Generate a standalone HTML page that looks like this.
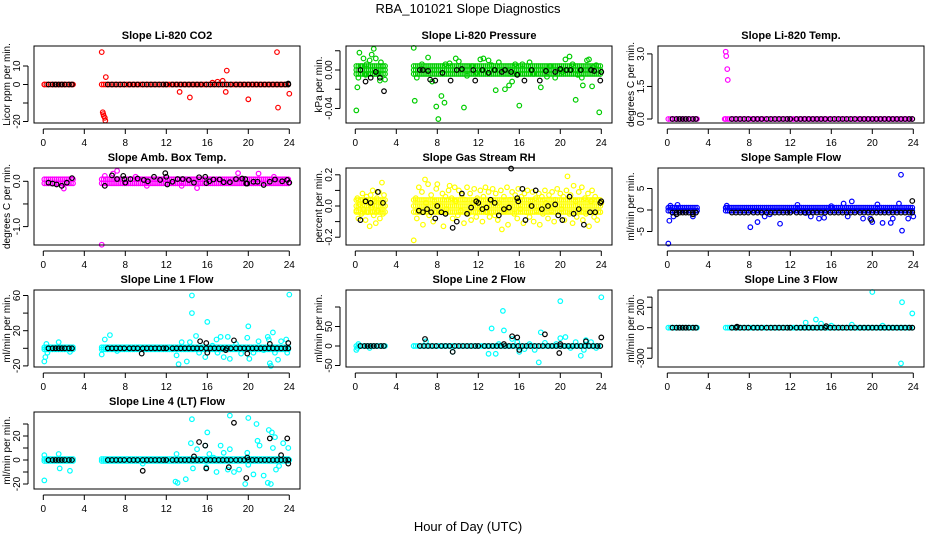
<!DOCTYPE html>
<html><head><meta charset="utf-8"><style>
html,body{margin:0;padding:0;background:#fff;}
svg{display:block;font-family:"Liberation Sans",sans-serif;}
</style></head><body>
<svg id="chart" width="936" height="540" viewBox="0 0 936 540" xmlns="http://www.w3.org/2000/svg">
<text x="468" y="13" text-anchor="middle" font-size="13">RBA_101021  Slope Diagnostics</text>
<text x="468" y="531" text-anchor="middle" font-size="13">Hour of Day (UTC)</text>
</svg>
<script>
// ---- shared data ----
const xTicks = [0,4,8,12,16,20,24];
const blackHours = [0.5,0.9,1.2,1.5,1.8,2.1,2.5,2.8,6.3,6.7,7.1,7.5,7.9,8.4,8.8,9.2,9.7,10.1,10.5,10.9,11.3,11.7,12.0,12.6,13.0,13.4,13.8,14.2,14.6,15.0,15.4,15.9,16.3,16.7,17.1,17.5,17.9,18.3,18.8,19.2,19.6,20.0,20.4,20.8,21.2,21.6,22.0,22.4,22.8,23.2,23.6,23.9];
const bandHours = [0.1,0.3,0.5,0.7,0.9,1.1,1.3,1.5,1.7,1.9,2.1,2.3,2.5,2.7,2.9,5.7,5.9,6.1,6.3,6.5,6.7,6.9,7.1,7.3,7.5,7.7,7.9,8.1,8.3,8.5,8.7,8.9,9.1,9.3,9.5,9.7,9.9,10.1,10.3,10.5,10.7,10.9,11.1,11.3,11.5,11.7,11.9,12.1,12.3,12.5,12.7,12.9,13.1,13.3,13.5,13.7,13.9,14.1,14.3,14.5,14.7,14.9,15.1,15.3,15.5,15.7,15.9,16.1,16.3,16.5,16.7,16.9,17.1,17.3,17.5,17.7,17.9,18.1,18.3,18.5,18.7,18.9,19.1,19.3,19.5,19.7,19.9,20.1,20.3,20.5,20.7,20.9,21.1,21.3,21.5,21.7,21.9,22.1,22.3,22.5,22.7,22.9,23.1,23.3,23.5,23.7,23.9];

// ---- panel data ----
const co2Band = 0;
const co2Color = [[5.7,17.5],[6.1,4],[5.8,-15],[5.9,-17],[6.0,-18],[6.05,-19.5],[5.85,-16],[13.3,-4],[14.3,-7],[16.5,1],[17,1.5],[17.8,-4],[17.9,7.5],[17.5,2],[20,-8],[22.8,17.5],[22.9,-12.5],[24,-5],[0.1,0]];
const co2Black = [[23.9,0.5]];
const co2BlackBase = 0;

const presBand = 0;
const presColor = [[0.1,-0.042],[0.3,-0.008],[0.4,0.018],[0.8,0.012],[1.1,0.006],[1.4,0.01],[1.6,0.016],[1.8,0.022],[2.2,-0.003],[2.4,-0.011],[2.7,0.004],[2.9,-0.01],[0.2,-0.018],[1.0,-0.005],[2.0,0.012],[0.6,0.004],[1.3,-0.004],[2.5,0.008],[5.7,0.023],[5.8,-0.032],[6.0,-0.008],[6.5,0.006],[7.1,0.013],[7.5,-0.012],[7.9,-0.038],[8.1,-0.051],[8.4,-0.027],[8.7,-0.034],[9.2,0.007],[10.1,0.009],[10.6,-0.039],[11.4,0.004],[12.2,0.011],[13.0,0.01],[13.7,-0.021],[14.6,-0.02],[15.0,-0.016],[15.3,-0.012],[16.0,-0.037],[16.3,0.006],[17.4,-0.004],[18.1,-0.018],[19.0,0.004],[20.5,0.011],[20.9,0.014],[21.5,-0.031],[21.7,-0.005],[22.2,-0.016],[22.6,0.01],[22.8,0.011],[23.1,-0.017],[23.8,-0.044],[23.5,0.005],[19.5,-0.008],[12.5,0.012],[9.8,0.012],[11.8,-0.003],[14.0,0.008],[17.0,0.008],[20.2,-0.002],[23.2,0.003],[8.8,0.006],[10.9,-0.006],[13.3,0.005],[15.6,0.006],[18.7,-0.007],[21.2,0.006],[22.1,-0.008]];
const presBlack = [[0.5,0.0],[1.0,-0.012],[1.5,-0.008],[2.0,-0.002],[2.4,-0.008],[2.8,-0.022],[6.3,0],[6.6,0],[7.1,-0.001],[7.3,-0.01],[7.8,-0.011],[8.5,-0.003],[9.3,-0.011],[9.9,0],[10.4,0.001],[11.5,0],[11.7,-0.011],[12.4,0],[13.0,-0.003],[13.6,0],[14.3,-0.002],[14.6,0],[15.2,-0.002],[15.8,-0.005],[16.5,-0.011],[17.2,0],[18.0,-0.011],[18.6,-0.001],[19.5,-0.002],[20.0,0.001],[20.6,0],[21.0,0],[22.0,0],[23.0,0],[23.3,-0.001],[23.9,-0.011],[24,-0.002]];
const presBlackBase = null;

const tempBand = 0;
const tempColor = [[5.7,3.1],[5.75,2.9],[5.85,2.3],[5.9,1.8],[5.6,0]];
const tempBlack = [];
const tempBlackBase = 0;

const ambBand = 0;
const ambColor = [[5.7,-1.4],[7.2,0.23],[6.8,0.17],[19.0,0.18],[21.0,0.17],[22.5,0.1],[2.0,-0.16],[10.1,-0.1],[15.0,-0.15],[6.0,0.12],[9.0,0.1],[13.5,-0.1]];
const ambBlack = [[0.5,-0.03],[0.9,-0.05],[1.3,-0.07],[1.8,-0.1],[2.3,-0.03],[2.8,0.07],[6.0,-0.1],[6.7,0.13],[7.2,0.05],[7.8,0.12],[7.9,0.05],[8.0,-0.03],[8.5,0.05],[9.2,0.06],[9.8,0.03],[10.2,0],[10.8,0.1],[11.4,0.03],[11.9,0.18],[12.0,0.1],[12.1,-0.07],[12.6,-0.01],[13.1,0.05],[13.6,0.05],[14.2,0.03],[14.7,-0.03],[15.2,0.09],[15.8,0.1],[15.9,-0.04],[16.2,0],[16.6,0.04],[17.2,0.04],[17.6,-0.02],[18.2,-0.02],[18.8,0.05],[19.4,0.06],[19.7,0.05],[19.8,-0.05],[19.9,-0.05],[20.5,-0.01],[20.9,-0.01],[21.5,-0.08],[22.1,-0.01],[22.6,0.04],[23.3,0],[23.8,0.03],[24,-0.03]];
const ambBlackBase = null;

const rhBand = 0;
const rhColor = [[0.1,-0.03],[0.2,0.05],[0.3,-0.08],[0.4,0.01],[0.5,0.04],[0.6,-0.05],[0.7,0.08],[0.8,-0.02],[0.9,0.03],[1.0,-0.09],[1.1,0.06],[1.2,-0.04],[1.3,0.02],[1.4,-0.13],[1.5,0.07],[1.6,-0.01],[1.7,0.1],[1.8,-0.06],[1.9,0.03],[2.0,-0.11],[2.1,0.05],[2.2,-0.03],[2.3,0.09],[2.4,-0.08],[2.5,0.02],[2.6,0.15],[2.7,-0.05],[2.8,0.07],[2.9,0.0],
[5.7,-0.22],[5.9,0.05],[6.0,-0.08],[6.2,0.12],[6.3,-0.03],[6.5,0.09],[6.6,-0.12],[6.8,0.17],[6.9,0.02],[7.1,0.14],[7.2,-0.06],[7.4,0.07],[7.6,-0.1],[7.7,0.03],[7.9,0.11],[8.0,0.14],[8.2,-0.04],[8.3,0.0],[8.5,0.08],[8.6,-0.13],[8.8,0.06],[8.9,-0.02],[9.1,0.1],[9.2,0.13],[9.4,0.05],[9.5,-0.08],[9.7,0.12],[9.8,0.03],[10.0,-0.06],[10.1,0.1],[10.3,-0.03],[10.4,0.07],[10.6,-0.11],[10.7,0.04],[10.9,0.12],[11.0,-0.05],[11.2,0.08],[11.3,-0.09],[11.5,0.02],[11.6,0.11],[11.8,-0.07],[11.9,0.05],[12.1,-0.02],[12.2,0.1],[12.4,-0.1],[12.5,0.06],[12.7,0.12],[12.8,-0.04],[13.0,0.09],[13.1,-0.07],[13.3,0.03],[13.4,0.11],[13.6,-0.06],[13.7,0.08],[13.9,-0.09],[14.0,0.02],[14.2,0.1],[14.3,-0.15],[14.5,0.06],[14.6,-0.03],[14.8,0.12],[14.9,-0.12],[15.1,0.04],[15.3,0.09],[15.5,-0.05],[15.6,0.07],[15.8,-0.08],[15.9,0.11],[16.1,-0.02],[16.2,0.06],[16.4,-0.11],[16.5,0.08],[16.7,-0.04],[16.8,0.1],[17.0,-0.07],[17.1,0.03],[17.3,0.09],[17.4,-0.1],[17.6,0.05],[17.7,-0.03],[17.9,0.08],[18.0,-0.12],[18.2,0.06],[18.3,-0.05],[18.5,0.1],[18.6,0.02],[18.8,-0.08],[18.9,0.07],[19.1,-0.03],[19.2,0.09],[19.4,-0.1],[19.5,0.04],[19.7,0.11],[19.8,-0.06],[20.0,0.08],[20.1,-0.02],[20.3,0.06],[20.4,-0.09],[20.6,0.1],[20.7,0.19],[20.9,-0.05],[21.0,0.07],[21.2,-0.11],[21.3,0.13],[21.5,0.03],[21.6,-0.07],[21.8,0.09],[21.9,-0.03],[22.1,0.12],[22.2,-0.09],[22.4,0.05],[22.5,-0.05],[22.7,0.08],[22.8,-0.13],[23.0,0.03],[23.1,0.1],[23.3,-0.07],[23.4,0.06],[23.6,-0.09],[23.7,0.04],[23.9,-0.04],[24.0,0.02]];
const rhBlack = [[0.5,-0.09],[1.0,0.03],[1.5,0.02],[2.2,0.09],[2.7,0.02],[6.2,-0.03],[6.6,-0.04],[7.0,-0.02],[7.4,-0.04],[7.8,-0.08],[8.0,0.0],[8.4,-0.04],[8.8,-0.05],[9.5,-0.14],[9.9,-0.1],[10.4,0.08],[10.9,-0.05],[11.3,-0.01],[11.8,0.03],[12.0,0.02],[12.4,-0.02],[12.8,-0.01],[13.2,0.04],[13.6,0.02],[14.0,-0.06],[14.5,-0.02],[15.0,-0.01],[15.2,0.24],[15.8,0.05],[15.9,0.03],[16.3,0.11],[16.6,-0.09],[17.2,0.0],[17.6,0.1],[18.2,-0.02],[18.8,0.0],[19.5,0.01],[19.8,-0.06],[20.2,-0.09],[20.9,0.06],[21.3,-0.05],[21.8,-0.02],[22.3,-0.12],[22.9,-0.04],[23.4,-0.04],[23.9,0.02],[24,0.03]];
const rhBlackBase = null;

const flowBand = 0.3;
const flowColor = [[0.1,-7.8],[0.2,-2.5],[0.3,1],[0.6,-1.5],[1.0,1.2],[2.5,-1.5],[5.8,1],[8.1,-4],[8.8,-2.8],[9.5,-1.5],[11,-3.2],[12.7,1.2],[14,-1.5],[14.8,-2],[15.3,-1.8],[16,0.9],[17.2,1.5],[17.6,-1.5],[18,2],[19.1,-2],[19.8,-2],[20,-2.8],[21,-3],[21.8,-3],[22,-2],[22.6,1.5],[22.8,8.2],[22.9,-4.8],[23.5,-2],[24,-1.5],[20.5,1.3],[21.5,0.5],[13.5,-0.7],[10,-1]];
const flowBlack = [[23.9,2.1],[19.9,-2.3],[0.9,-1.0],[2.5,-1.0]];
const flowBlackBase = -0.6;

const l1Band = 0;
const l1Color = [[0.1,-15],[0.2,-10],[0.3,5],[0.4,-5],[1.5,7],[2.6,-4],[5.7,-7],[6.0,10],[6.5,15],[7.2,-3],[13.0,-8],[13.2,-18],[13.5,7],[14,-15],[14.3,7],[14.5,60],[14.5,40],[14.9,14],[15.2,-5],[15.8,-10],[16,30],[16.5,3],[17,-5],[17.3,13],[17.6,-10],[18,13],[18.2,-12],[18.8,5],[19.3,-6],[19.9,12],[20,25],[20.1,-12],[20.5,-5],[21,8],[21.5,-2],[22,10],[22.1,-17],[22.2,-20],[22.4,18],[22.6,-5],[22.9,-13],[23.2,8],[23.7,10],[23.8,-5],[24,61],[21.9,13],[16.9,10]];
const l1Black = [[15.3,8],[15.9,6],[16.0,-5],[18.6,9],[19.9,-6],[22.1,5],[23.9,6],[9.6,-6],[17.8,-2]];
const l1BlackBase = 0;

const l2Band = 0;
const l2Color = [[0.1,-10],[0.2,-5],[0.3,5],[1.4,-5],[5.7,0],[6.9,12],[9.5,-15],[13.0,-20],[13.3,45],[13.7,-20],[14.4,90],[14.5,40],[15.3,18],[15.8,10],[16.5,-8],[17,5],[17.5,-10],[17.9,-42],[18.1,35],[18.5,8],[19.6,5],[20,115],[20,20],[20.5,23],[21,-5],[22,-25],[22.3,-10],[22.5,15],[23,10],[23.5,-5],[24,125],[21.5,10],[16,-15],[14,5]];
const l2Black = [[6.8,18],[9.5,-15],[14.5,5],[15.3,25],[15.8,22],[16,-10],[18.5,30],[19.9,-18],[20,5],[22.5,12],[24,22]];
const l2BlackBase = 0;

const l3Band = 0;
const l3Color = [[20,350],[22.8,-350],[22.9,250],[23.9,140],[14.5,80],[13.5,50],[16,20],[18,30],[21,20],[15,40]];
const l3Black = [[15.5,15],[6.8,10]];
const l3BlackBase = 0;

const l4Band = 0;
const l4Color = [[0.1,4],[0.1,-17],[1.5,5],[1.6,-7],[2.6,-9],[9.7,-3],[12.9,-18],[13.1,-19],[13.9,-16],[13.0,5],[14.5,34],[14.4,14],[14.6,-7],[15.0,9],[15.8,12],[15.9,-6],[16.0,23],[16.2,5],[16.6,2],[16.9,-10],[17.3,12],[17.6,6],[18.0,-8],[18.2,9],[18.2,37],[18.6,-10],[19.1,-8],[19.7,-20],[19.9,6],[20.0,35],[20.0,-4],[20.5,-12],[20.8,30],[20.9,16],[21.1,12],[21.5,-13],[21.9,-19],[22.0,25],[22.2,-20],[22.3,23],[22.4,10],[22.6,19],[22.7,-8],[23.0,-5],[23.4,14],[23.9,10],[24,0]];
const l4Black = [[9.7,-9],[14.7,3],[15.2,15],[15.8,12],[15.9,-7],[18.1,-6],[18.6,31],[19.8,-15],[19.9,2],[22.1,18],[23.2,4],[23.8,18],[23.9,-3]];
const l4BlackBase = 0;

// ---- tick arrays ----
const co2Ticks=[-20,-10,0,10], co2Labels=["-20","","0","10"];
const presTicks=[-0.04,-0.02,0,0.02], presLabels=["-0.04","","0.00",""];
const tempTicks=[0,1.5,3], tempLabels=["0.0","1.5","3.0"];
const ambTicks=[-1,-0.5,0], ambLabels=["-1.0","","0.0"];
const rhTicks=[-0.2,-0.1,0,0.1,0.2], rhLabels=["-0.2","","0.0","","0.2"];
const flowTicks=[-5,0,5], flowLabels=["-5","0","5"];
const l1Ticks=[-20,0,20,40,60], l1Labels=["-20","","20","","60"];
const l2Ticks=[-50,0,50,100], l2Labels=["-50","0","50",""];
const l3Ticks=[-300,-200,0,200,300], l3Labels=["-300","","0","200",""];
const l4Ticks=[-20,-10,0,10,20,30], l4Labels=["-20","","0","","20",""];

// ---- layout ----
const SVGNS="http://www.w3.org/2000/svg";
const svg=document.getElementById('chart');
const colL=[34,346,658], rowT=[46,168,290,412], W=266, H=77;
const panels=[
 {name:'co2',title:'Slope Li-820 CO2',yl:'Licor ppm per min.',c:0,r:0,col:'#ff0000',v0:0,p0:38.5,s:1.85,band:co2Band,bo:[0],pts:co2Color,blk:co2Black,bb:co2BlackBase,ticks:co2Ticks,labs:co2Labels},
 {name:'pressure',title:'Slope Li-820 Pressure',yl:'kPa per min.',c:1,r:0,col:'#00cd00',v0:0,p0:24,s:962,band:presBand,bo:[-4,0,4],pts:presColor,blk:presBlack,bb:presBlackBase,ticks:presTicks,labs:presLabels},
 {name:'temp',title:'Slope Li-820 Temp.',yl:'degrees C per min.',c:2,r:0,col:'#ff00ff',v0:0,p0:73,s:21.7,band:tempBand,bo:[0],pts:tempColor,blk:tempBlack,bb:tempBlackBase,ticks:tempTicks,labs:tempLabels},
 {name:'amb-box-temp',title:'Slope Amb. Box Temp.',yl:'degrees C per min.',c:0,r:1,col:'#ff00ff',v0:0,p0:13.3,s:45.3,band:ambBand,bo:[-2,2],pts:ambColor,blk:ambBlack,bb:ambBlackBase,ticks:ambTicks,labs:ambLabels},
 {name:'gas-stream-rh',title:'Slope Gas Stream RH',yl:'percent per min.',c:1,r:1,col:'#ffff00',v0:0,p0:38,s:156,band:rhBand,bo:[-6,0,6],pts:rhColor,blk:rhBlack,bb:rhBlackBase,ticks:rhTicks,labs:rhLabels},
 {name:'sample-flow',title:'Slope Sample Flow',yl:'ml/min per min.',c:2,r:1,col:'#0000ff',v0:0,p0:42,s:4.3,band:flowBand,bo:[-1,2],pts:flowColor,blk:flowBlack,bb:flowBlackBase,ticks:flowTicks,labs:flowLabels},
 {name:'line1-flow',title:'Slope Line 1 Flow',yl:'ml/min per min.',c:0,r:2,col:'#00ffff',v0:0,p0:58.3,s:0.88,band:l1Band,bo:[-1,1],pts:l1Color,blk:l1Black,bb:l1BlackBase,ticks:l1Ticks,labs:l1Labels},
 {name:'line2-flow',title:'Slope Line 2 Flow',yl:'ml/min per min.',c:1,r:2,col:'#00ffff',v0:0,p0:56,s:0.39,band:l2Band,bo:[0],pts:l2Color,blk:l2Black,bb:l2BlackBase,ticks:l2Ticks,labs:l2Labels},
 {name:'line3-flow',title:'Slope Line 3 Flow',yl:'ml/min per min.',c:2,r:2,col:'#00ffff',v0:0,p0:37.7,s:0.102,band:l3Band,bo:[0],pts:l3Color,blk:l3Black,bb:l3BlackBase,ticks:l3Ticks,labs:l3Labels},
 {name:'line4-flow',title:'Slope Line 4 (LT) Flow',yl:'ml/min per min.',c:0,r:3,col:'#00ffff',v0:0,p0:48,s:1.2,band:l4Band,bo:[-1,1],pts:l4Color,blk:l4Black,bb:l4BlackBase,ticks:l4Ticks,labs:l4Labels}
];
function mk(tag,attrs,parent){const e=document.createElementNS(SVGNS,tag);for(const k in attrs)e.setAttribute(k,attrs[k]);(parent||svg).appendChild(e);return e;}
const R=2.3;
panels.forEach(p=>{
 const L=colL[p.c], T=rowT[p.r];
 const xs=h=>L+9.3+h*10.25;
 const ys=v=>T+p.p0-(v-p.v0)*p.s;
 const g=mk('g',{});
 
 
 const t=mk('text',{x:L+W/2,y:T-7,'text-anchor':'middle','font-size':'11','font-weight':'bold'},g);
 t.textContent=p.title;
 
 
 const yl=mk('text',{x:0,y:0,'text-anchor':'middle','font-size':'10',transform:`translate(${L-24},${T+H/2}) rotate(-90)`},g);
 yl.textContent=p.yl;
 
 
 const marks=mk('g',{fill:'none','stroke-width':'1.2'},g);
 
 
 bandHours.forEach(h=>{p.bo.forEach(o=>{
  const c=mk('circle',{cx:xs(h),cy:ys(p.band)+o,r:R,stroke:p.col},marks);
  
  
 });});
 p.pts.forEach(d=>{
  const c=mk('circle',{cx:xs(d[0]),cy:ys(d[1]),r:R,stroke:p.col},marks);
  
  
 });
 if(p.bb!==null){blackHours.forEach(h=>{
  const c=mk('circle',{cx:xs(h),cy:ys(p.bb),r:R,stroke:'#000'},marks);
  
  
 });}
 p.blk.forEach(d=>{
  const c=mk('circle',{cx:xs(d[0]),cy:ys(d[1]),r:R,stroke:'#000'},marks);
  
  
 });
 const box=mk('rect',{x:L,y:T,width:W,height:H,fill:'none',stroke:'#000','stroke-width':'1'},g);
 
 
 const xa=mk('g',{},g);
 
 
 mk('line',{x1:xs(0),x2:xs(24),y1:T+H+6,y2:T+H+6,stroke:'#000'},xa);
 xTicks.forEach(v=>{
  mk('line',{x1:xs(v),x2:xs(v),y1:T+H+6,y2:T+H+11,stroke:'#000'},xa);
  const tl=mk('text',{x:xs(v),y:T+H+23,'text-anchor':'middle','font-size':'10'},xa);
  tl.textContent=v;
  
  
 });
 const ya=mk('g',{},g);
 
 
 mk('line',{x1:L-6,x2:L-6,y1:ys(p.ticks[0]),y2:ys(p.ticks[p.ticks.length-1]),stroke:'#000'},ya);
 p.ticks.forEach((v,i)=>{
  mk('line',{x1:L-11,x2:L-6,y1:ys(v),y2:ys(v),stroke:'#000'},ya);
  if(p.labs[i]){
   const tl=mk('text',{x:0,y:0,'text-anchor':'middle','font-size':'10',transform:`translate(${L-14},${ys(v)}) rotate(-90)`},ya);
   tl.textContent=p.labs[i];
   
   
  }
 });
});
</script>
</body></html>
